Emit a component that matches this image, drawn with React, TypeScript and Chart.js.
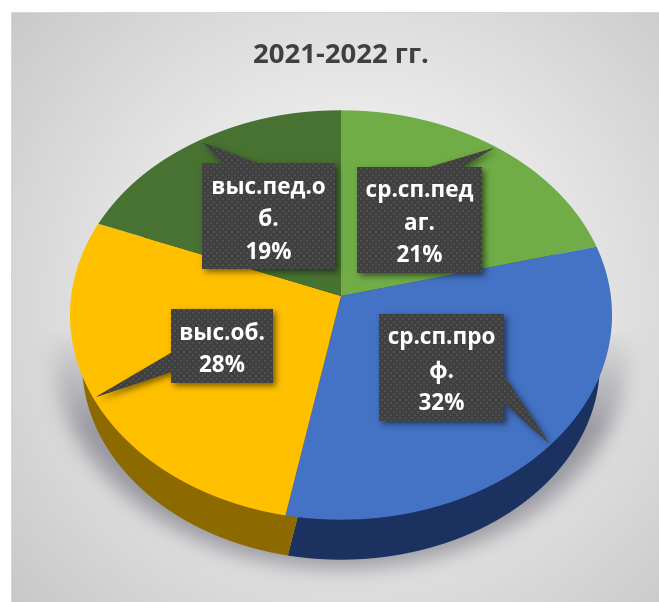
import React, { useEffect, useRef } from "react";
import { Chart, registerables } from "chart.js";

Chart.register(...registerables);

const chartTitle = "2021-2022 гг.";
const categories = ["ср.сп.педаг.", "ср.сп.проф.", "выс.об.", "выс.пед.об."];
const categoryLines = [["ср.сп.пед", "аг."], ["ср.сп.про", "ф."], ["выс.об."], ["выс.пед.о", "б."]];
const values = [21, 32, 28, 19];
const sliceColors = ["#70AD47", "#4472C4", "#FFC000", "#487231"];
const rimColors = ["#3f6327", "#1b315f", "#8c6a00", "#2c451d"];

// Callout boxes: rectangle, base of pointer and pointer tip (layout only).
const callouts = [
  { x: 357, y: 167, w: 125, h: 106, base: [[430, 167], [462, 167]], tip: [494, 148], baselines: [197, 230, 262] },
  { x: 379, y: 314, w: 125, h: 107, base: [[504, 376], [504, 403]], tip: [549, 443], baselines: [344, 378, 410] },
  { x: 171, y: 309, w: 102, h: 74, base: [[171, 353], [171, 372]], tip: [96, 397], baselines: [340, 372] },
  { x: 202, y: 163, w: 133, h: 106, base: [[223, 163], [257, 163]], tip: [203, 143], baselines: [194, 226, 259] },
];

// Perspective of the tilted pie: screen = apex + (R*u, B*v) / (1 - A*v), u,v on the unit circle.
const APEX_Y = 296;
const PERSP_A = 0.0927;
const PERSP_B = 203;
const BOTTOM_DISC_SCALE = 0.955;
const BOTTOM_DISC_APEX_Y = 346;
const FONT = '"Open Sans", sans-serif';

function makePattern(ctx: CanvasRenderingContext2D) {
  const c = document.createElement("canvas");
  c.width = 6;
  c.height = 6;
  const p = c.getContext("2d")!;
  p.fillStyle = "#404040";
  p.fillRect(0, 0, 6, 6);
  p.fillStyle = "#505050";
  p.fillRect(0, 0, 2, 2);
  p.fillRect(3, 3, 2, 2);
  return ctx.createPattern(c, "repeat")!;
}

// Draws the chart's arc elements through the perspective map, one pixel row at a time.
function drawDisc(ctx: any, arcs: any[], apexY: number, scale: number, paint: (el: any, i: number) => void) {
  const r = arcs[0].outerRadius;
  const cx = arcs[0].x;
  const cy = arcs[0].y;
  const R = (r / 1.0043) * scale;
  const B = PERSP_B * scale;
  const yTop = Math.floor(apexY - (B / (1 + PERSP_A)) - 2);
  const yBottom = Math.ceil(apexY + B / (1 - PERSP_A) + 2);
  for (let y = yTop; y < yBottom; y++) {
    const dy = y + 0.5 - apexY;
    const v = dy / (B + PERSP_A * dy);
    if (Math.abs(v) > 1.02) continue;
    const w = 1 - PERSP_A * v;
    const sx = R / r / w;
    const sy = (B / r) / (w * w);
    ctx.save();
    ctx.beginPath();
    ctx.rect(0, y, ctx.canvas.width, 1);
    ctx.clip();
    ctx.translate(cx, y + 0.5);
    ctx.scale(sx, sy);
    ctx.translate(-cx, -cy - v * r);
    arcs.forEach((el, i) => paint(el, i));
    ctx.restore();
  }
}

// Soft contact shadow: a blurred ellipse that fades out towards its top.
function drawGroundShadow(ctx: any, cx: number, r: number) {
  const off = document.createElement("canvas");
  off.width = ctx.canvas.width;
  off.height = ctx.canvas.height;
  const o = off.getContext("2d")!;
  o.save();
  o.shadowColor = "rgba(95,95,110,0.55)";
  o.shadowBlur = 20;
  o.shadowOffsetX = 2000;
  o.fillStyle = "#000";
  o.beginPath();
  o.ellipse(cx - 2000, 350, r + 16, 218, 0, 0, Math.PI * 2);
  o.fill();
  o.restore();
  o.globalCompositeOperation = "destination-in";
  const g = o.createLinearGradient(0, 330, 0, 430);
  g.addColorStop(0, "rgba(0,0,0,0)");
  g.addColorStop(1, "rgba(0,0,0,1)");
  o.fillStyle = g;
  o.fillRect(0, 0, off.width, off.height);
  ctx.drawImage(off, 0, 0);
}

const tiltedPie = {
  id: "tiltedPie",
  beforeDraw(chart: any) {
    const { ctx, width, height } = chart;
    ctx.save();
    ctx.fillStyle = "#ffffff";
    ctx.fillRect(0, 0, width, height);
    const g = ctx.createRadialGradient(355, 300, 60, 355, 300, 470);
    g.addColorStop(0, "#fafafa");
    g.addColorStop(1, "#c6c6c6");
    ctx.fillStyle = g;
    ctx.fillRect(11, 12, width - 11, height - 12);
    ctx.fillStyle = "#d6d6d6";
    ctx.fillRect(11, 12, width - 11, 1);
    ctx.fillRect(11, 12, 1, height - 12);
    ctx.restore();
  },
  beforeDatasetsDraw(chart: any) {
    const { ctx } = chart;
    const arcs = chart.getDatasetMeta(0).data;

    drawGroundShadow(ctx, arcs[0].x, arcs[0].outerRadius);

    // far (bottom) disc gives the visible side wall
    drawDisc(ctx, arcs, BOTTOM_DISC_APEX_Y, BOTTOM_DISC_SCALE, (el, i) => {
      ctx.fillStyle = rimColors[i];
      ctx.beginPath();
      ctx.moveTo(el.x, el.y);
      ctx.arc(el.x, el.y, el.outerRadius, el.startAngle, el.endAngle);
      ctx.closePath();
      ctx.fill();
    });

    // top face
    drawDisc(ctx, arcs, APEX_Y, 1, (el) => el.draw(ctx));
    return false;
  },
  afterDraw(chart: any) {
    const { ctx } = chart;
    const total = values.reduce((a, b) => a + b, 0);
    const pattern = makePattern(ctx);
    callouts.forEach((c, i) => {
      const path = new Path2D();
      path.rect(c.x, c.y, c.w, c.h);
      const wedge = new Path2D();
      wedge.moveTo(c.base[0][0], c.base[0][1]);
      wedge.lineTo(c.tip[0], c.tip[1]);
      wedge.lineTo(c.base[1][0], c.base[1][1]);
      wedge.closePath();
      ctx.save();
      ctx.shadowColor = "rgba(0,0,0,0.5)";
      ctx.shadowBlur = 6;
      ctx.shadowOffsetX = 3;
      ctx.shadowOffsetY = 3;
      ctx.fillStyle = "#404040";
      ctx.fill(path);
      ctx.fill(wedge);
      ctx.restore();
      ctx.fillStyle = pattern;
      ctx.fill(path);
      ctx.fill(wedge);
      ctx.fillStyle = "#ffffff";
      ctx.font = `bold 22.5px ${FONT}`;
      ctx.textAlign = "center";
      ctx.textBaseline = "alphabetic";
      const lines = [...categoryLines[i], `${Math.round((values[i] / total) * 100)}%`];
      lines.forEach((t, j) => ctx.fillText(t, c.x + c.w / 2, c.baselines[j]));
    });
  },
};

export default function App() {
  const ref = useRef<HTMLCanvasElement>(null);
  useEffect(() => {
    const chart = new Chart(ref.current!, {
      type: "pie",
      data: {
        labels: categories,
        datasets: [{ data: values, backgroundColor: sliceColors, borderWidth: 0, radius: 271 }],
      },
      options: {
        responsive: false,
        animation: false,
        layout: { padding: { left: 23 } },
        plugins: {
          legend: { display: false },
          tooltip: { enabled: false },
          title: {
            display: true,
            text: chartTitle,
            color: "#404040",
            font: { family: FONT, size: 27.5, weight: "bold", lineHeight: 1.2 },
            padding: { top: 39, bottom: 4 },
          },
        },
      },
      plugins: [tiltedPie],
    } as any);
    return () => chart.destroy();
  }, []);
  return (
    <canvas
      ref={ref}
      width={659}
      height={602}
      style={{ position: "absolute", left: 0, top: 0, width: 659, height: 602, display: "block" }}
    />
  );
}
